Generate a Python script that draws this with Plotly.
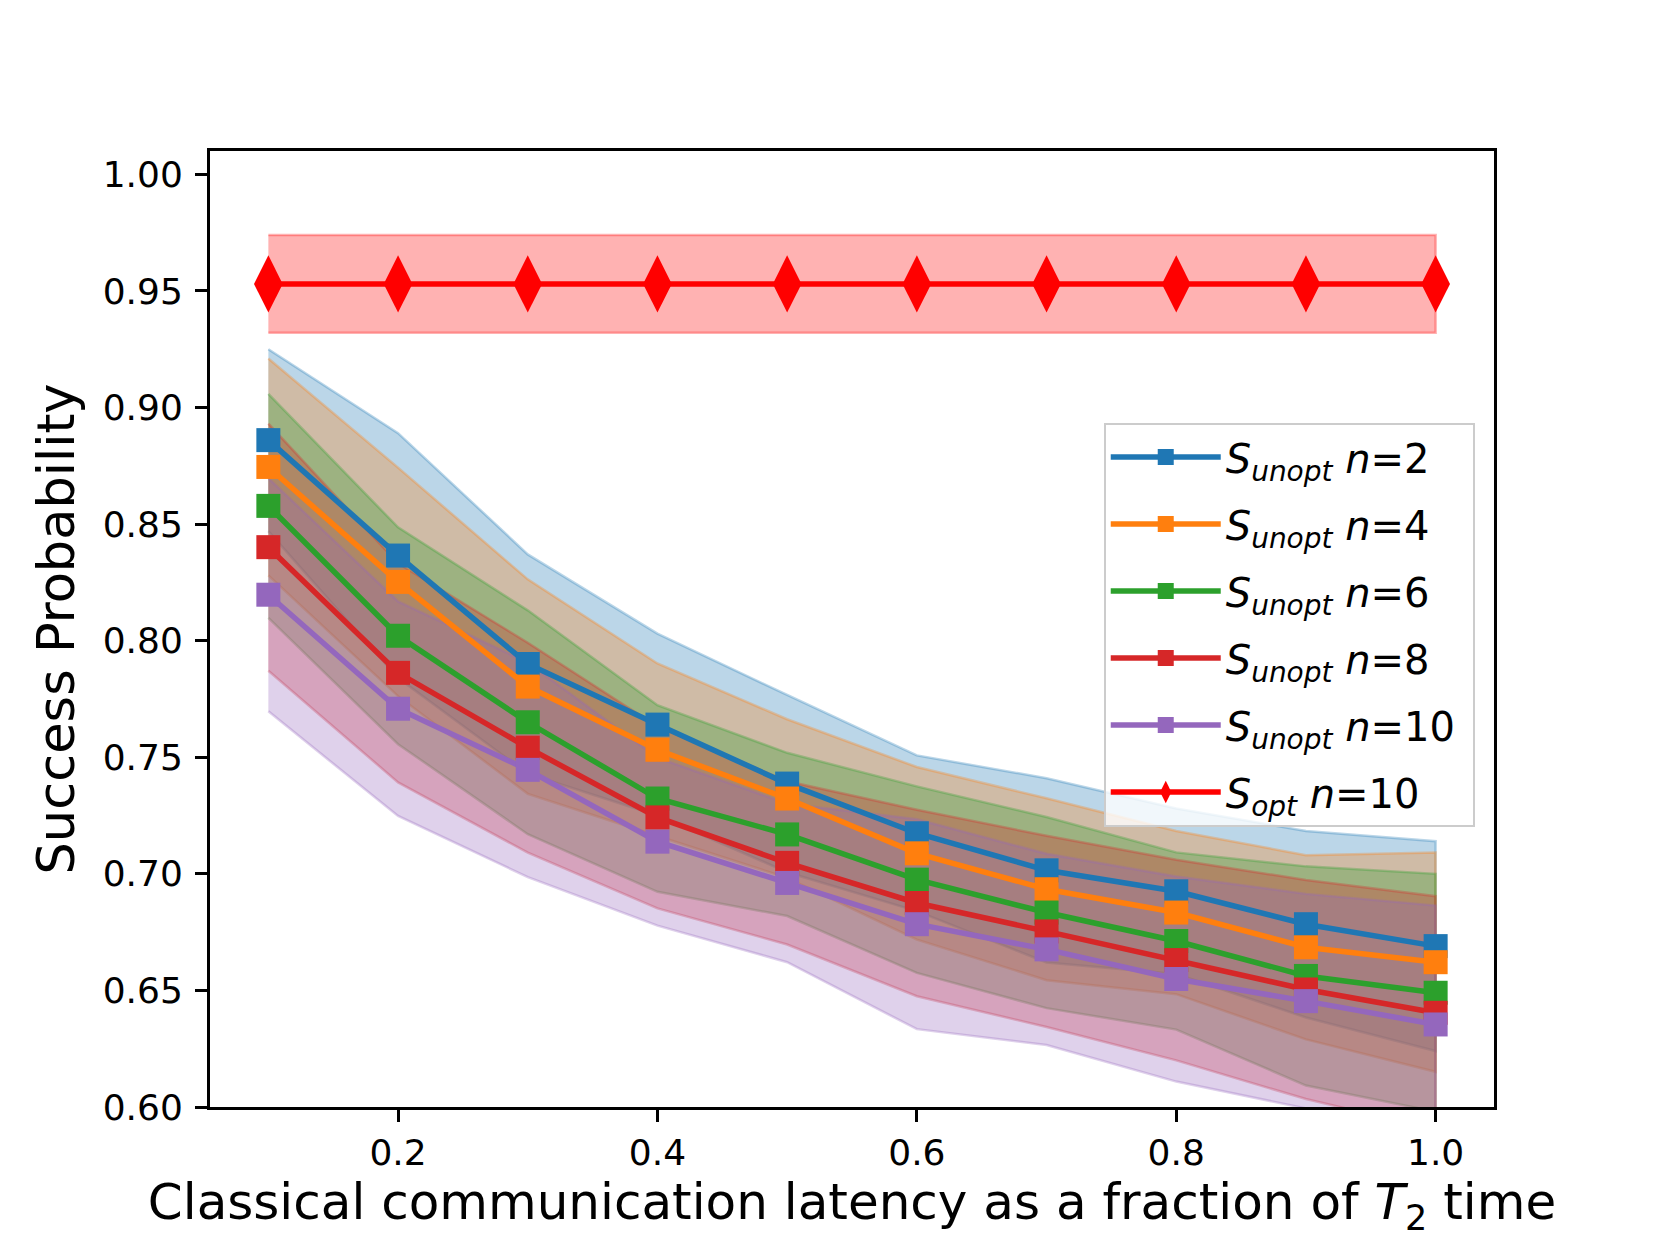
import plotly.graph_objects as go

# latency as fraction of T2
latency = [0.1, 0.2, 0.3, 0.4, 0.5, 0.6, 0.7, 0.8, 0.9, 1.0]

# mean success probability (unoptimised), per n
mean_n2 = [0.886, 0.8365, 0.790, 0.764, 0.7387, 0.7174, 0.7015, 0.6925, 0.6784, 0.669]
mean_n4 = [0.8745, 0.8252, 0.7803, 0.7532, 0.7323, 0.7088, 0.6934, 0.6834, 0.6685, 0.6621]
mean_n6 = [0.8578, 0.8021, 0.765, 0.7323, 0.7169, 0.6975, 0.6834, 0.6712, 0.6562, 0.649]
mean_n8 = [0.8401, 0.7862, 0.7541, 0.7242, 0.7047, 0.6875, 0.6753, 0.663, 0.6504, 0.6404]
mean_n10 = [0.8197, 0.7708, 0.7446, 0.7138, 0.6961, 0.6784, 0.6676, 0.6549, 0.6454, 0.6354]

# standard deviations (shaded bands)
std_n2 = [0.039, 0.0525, 0.047, 0.039, 0.038, 0.0334, 0.0395, 0.0355, 0.040, 0.045]
std_n4 = [0.0465, 0.049, 0.046, 0.037, 0.034, 0.037, 0.039, 0.035, 0.0395, 0.047]
std_n6 = [0.048, 0.0465, 0.048, 0.040, 0.035, 0.040, 0.041, 0.038, 0.047, 0.051]
std_n8 = [0.053, 0.047, 0.045, 0.039, 0.035, 0.040, 0.041, 0.043, 0.047, 0.050]
std_n10 = [0.050, 0.046, 0.046, 0.036, 0.034, 0.045, 0.041, 0.044, 0.046, 0.051]

# optimised, n=10 (constant)
mean_opt = [0.953] * 10
std_opt = [0.021] * 10

series = [
    ("2", mean_n2, std_n2, (31, 119, 180)),
    ("4", mean_n4, std_n4, (255, 127, 14)),
    ("6", mean_n6, std_n6, (44, 160, 44)),
    ("8", mean_n8, std_n8, (214, 39, 40)),
    ("10", mean_n10, std_n10, (148, 103, 189)),
]
opt_color = (255, 0, 0)


def rgba(c, a):
    return "rgba(%d,%d,%d,%s)" % (c[0], c[1], c[2], a)


def band(mean, std, color):
    upper = [m + s for m, s in zip(mean, std)]
    lower = [m - s for m, s in zip(mean, std)]
    return go.Scatter(
        x=latency + latency[::-1],
        y=upper + lower[::-1],
        fill="toself",
        fillcolor=rgba(color, 0.3),
        line=dict(color=rgba(color, 0.3), width=2.5),
        mode="lines",
        showlegend=False,
        hoverinfo="skip",
    )


fig = go.Figure()

# bands first so the lines sit on top (like matplotlib zorder)
fig.add_trace(band(mean_opt, std_opt, opt_color))
for n, mean, std, color in series:
    fig.add_trace(band(mean, std, color))

for i, (n, mean, std, color) in enumerate(series):
    fig.add_trace(go.Scatter(
        x=latency, y=mean, mode="lines+markers",
        name="<i>S</i><sub><i>unopt</i></sub> <i>n</i>=" + n + "&nbsp;",
        line=dict(color=rgba(color, 1), width=5.5),
        marker=dict(symbol="square", size=24, color=rgba(color, 1)),
        legendgroup="g%d" % i,
    ))

fig.add_trace(go.Scatter(
    x=latency, y=mean_opt, mode="lines+markers",
    name="<i>S</i><sub><i>opt</i></sub> <i>n</i>=10&nbsp;",
    line=dict(color=rgba(opt_color, 1), width=5.5),
    marker=dict(symbol="diamond-tall", size=41, color=rgba(opt_color, 1)),
    legendgroup="g5",
))

axis_common = dict(
    showline=True, linecolor="black", linewidth=3, mirror=True,
    ticks="outside", ticklen=12, tickwidth=3, tickcolor="black",
    showgrid=False, zeroline=False,
    tickfont=dict(family="DejaVu Sans", size=36, color="black"),
)

fig.update_layout(
    width=1660, height=1245,
    margin=dict(l=210, r=166, t=151, b=138),
    paper_bgcolor="white", plot_bgcolor="white",
    font=dict(family="DejaVu Sans", color="black"),
    xaxis=dict(
        range=[0.055, 1.045], tickvals=[0.2, 0.4, 0.6, 0.8, 1.0], tickformat=".1f",
        title=dict(text="Classical communication latency as a fraction of <i>T</i><sub>2</sub> time",
                   font=dict(size=50), standoff=12),
        **axis_common
    ),
    yaxis=dict(
        range=[0.6, 1.01], tickvals=[0.6, 0.65, 0.7, 0.75, 0.8, 0.85, 0.9, 0.95, 1.0],
        tickformat=".2f", ticklabelstandoff=5,
        title=dict(text="Success Probability", font=dict(size=51), standoff=12),
        **axis_common
    ),
    legend=dict(
        x=0.985, y=0.716, xanchor="right", yanchor="top",
        bgcolor="rgba(255,255,255,0.8)", bordercolor="#cccccc", borderwidth=2,
        font=dict(size=40, family="DejaVu Sans"),
        itemwidth=110, tracegroupgap=12,
    ),
)

fig.write_html("out.html", config={"displayModeBar": False},
               post_script="document.body.style.margin='0';")
